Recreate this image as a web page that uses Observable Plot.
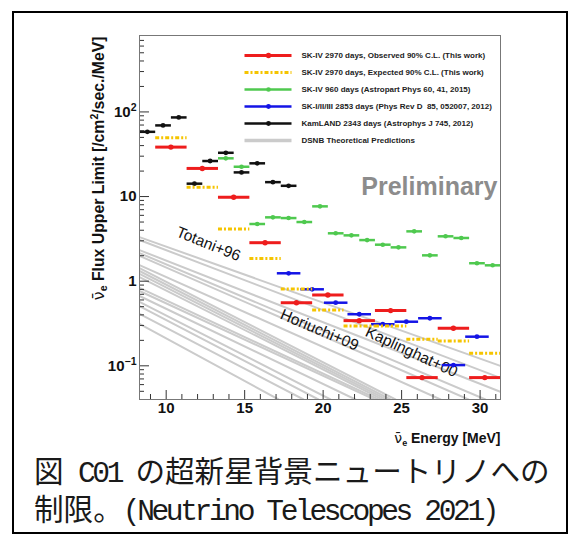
<!DOCTYPE html>
<html><head><meta charset="utf-8">
<script src="https://cdn.jsdelivr.net/npm/d3@7"></script>
<script src="https://cdn.jsdelivr.net/npm/@observablehq/plot@0.6"></script>
<style>
body{margin:0;background:#fff;}
#wrap{position:relative;width:574px;height:540px;overflow:hidden;background:#fff;}
#border{position:absolute;left:12px;top:11px;width:556px;height:523px;border:2px solid #000;box-sizing:border-box;pointer-events:none;}
#chart svg{display:block;}
#caption{position:absolute;left:34px;top:455px;font-family:"Liberation Mono","Noto Sans CJK JP",monospace;font-size:29.6px;line-height:38px;color:#1a1a1a;white-space:nowrap;}
#caption .lat{letter-spacing:-3.4px;}
</style></head>
<body>
<div id="wrap">
  <div id="chart"></div>
  <div id="caption"></div>
  <div id="border"></div>
</div>
<script>
// ---------- data ----------
const xDomain = [8.3, 31.3];
const yDomain = [0.04, 800];
const xTickValues = [10, 15, 20, 25, 30];
const xTickLabels = ["10", "15", "20", "25", "30"];
const xMinorTicks = [9, 11, 12, 13, 14, 16, 17, 18, 19, 21, 22, 23, 24, 26, 27, 28, 29, 31];
const yTickValues = [0.1, 1, 10, 100];
const yTickLabels = ["10\u207B\u00B9", "1", "10", "10\u00B2"];

// SK-IV 2970 days (this work), 2 MeV bins
const skivLo = [9.3, 11.3, 13.3, 15.3, 17.3, 19.3, 21.3, 23.3, 25.3, 27.3, 29.3];
const skivHi = [11.3, 13.3, 15.3, 17.3, 19.3, 21.3, 23.3, 25.3, 27.3, 29.3, 31.3];
const skivObserved = [38.4, 21.5, 9.8, 2.85, 0.557, 0.687, 0.342, 0.449, 0.0726, 0.278, 0.0726];
const skivExpected = [49.4, 12.9, 4.13, 1.86, 0.809, 0.457, 0.296, 0.296, 0.206, 0.197, 0.141];

// SK-IV 960 days, 1 MeV bins
const sk960Lo = [13.3, 14.3, 15.3, 16.3, 17.3, 18.3, 19.3, 20.3, 21.3, 22.3, 23.3, 24.3, 25.3, 26.3, 27.3, 28.3, 29.3, 30.3];
const sk960Hi = [14.3, 15.3, 16.3, 17.3, 18.3, 19.3, 20.3, 21.3, 22.3, 23.3, 24.3, 25.3, 26.3, 27.3, 28.3, 29.3, 30.3, 31.3];
const sk960Limit = [28.3, 22.5, 4.74, 5.68, 5.57, 5.0, 7.66, 3.68, 3.48, 3.06, 2.70, 2.51, 3.88, 2.02, 3.39, 3.24, 1.63, 1.54];

// SK-I/II/III 2853 days
const sk123Lo = [17.05, 18.55, 20.05, 21.55, 23.05, 24.55, 26.05, 27.55, 29.05];
const sk123Hi = [18.55, 20.05, 21.55, 23.05, 24.55, 26.05, 27.55, 29.05, 30.55];
const sk123Limit = [1.24, 0.802, 0.557, 0.407, 0.310, 0.332, 0.365, 0.102, 0.221];

// KamLAND 2343 days
const kamLo = [8.3, 9.3, 10.3, 11.3, 12.3, 13.3, 14.3, 15.3, 16.3, 17.3];
const kamHi = [9.3, 10.3, 11.3, 12.3, 13.3, 14.3, 15.3, 16.3, 17.3, 18.3];
const kamLimit = [58.2, 69.3, 86.1, 14.2, 26.3, 32.9, 19.3, 24.7, 14.8, 13.4];

// DSNB theoretical predictions (start and end points of each curve)
const dsnbE0 = [8.3, 8.3, 8.3, 8.3, 8.3, 8.3, 8.3, 8.3, 8.3, 8.3, 8.3, 8.3, 8.3, 8.3, 8.3, 8.3, 8.3];
const dsnbV0 = [3.32, 3.07, 2.33, 2.15, 1.99, 1.55, 1.43, 1.32, 1.22, 1.12, 0.832, 0.766, 0.668, 0.568, 0.509, 0.410, 0.313];
const dsnbE1 = [31.3, 31.3, 31.3, 30.34, 29.26, 27.48, 24.61, 24.29, 24.03, 23.78, 23.53, 23.27, 22.06, 20.47, 19.70, 18.75, 17.16];
const dsnbV1 = [0.0997, 0.072, 0.0492, 0.04, 0.04, 0.04, 0.04, 0.04, 0.04, 0.04, 0.04, 0.04, 0.04, 0.04, 0.04, 0.04, 0.04];

const modelNames = ["Totani+96", "Horiuchi+09", "Kaplinghat+00"];
const modelE = [12.7, 19.77, 25.63];
const modelV = [2.75, 0.265, 0.146];

const legendLabels = [
  "SK-IV 2970 days, Observed 90% C.L. (This work)",
  "SK-IV 2970 days, Expected 90% C.L. (This work)",
  "SK-IV 960 days (Astropart Phys 60, 41, 2015)",
  "SK-I/II/III 2853 days (Phys Rev D  85, 052007, 2012)",
  "KamLAND 2343 days (Astrophys J 745, 2012)",
  "DSNB Theoretical Predictions"
];
const xTitle = "Energy [MeV]";
const yTitle = "Flux Upper Limit";

// ---------- layout & style ----------
const W = 574, H = 450;
const ML = 139, MR = 74, MT = 35, MB = 51;
const frameW = W - ML - MR, frameH = H - MT - MB;
const X = d3.scaleLinear(xDomain, [ML, W - MR]);
const Y = d3.scaleLog(yDomain, [H - MB, MT]);

const RED = "#ee1d1d", GOLD = "#f5c400", GREEN = "#4fc94f", BLUE = "#1414e6", BLACK = "#111111", GRAY = "#cbcbcb";
const styles = [
  {color: RED, width: 3, dash: null, r: 2.7},
  {color: GOLD, width: 3, dash: "4,2,2,2", r: 0},
  {color: GREEN, width: 2.5, dash: null, r: 2.3},
  {color: BLUE, width: 2.5, dash: null, r: 2.4},
  {color: BLACK, width: 2.5, dash: null, r: 2.4},
  {color: GRAY, width: 3.5, dash: null, r: 0}
];
const modelAngle = [22, 23, 25];

const rows = (lo, hi, v) => lo.map((l, i) => ({lo: l, hi: hi[i], mid: (l + hi[i]) / 2, v: v[i]}));
function series(data, st) {
  const m = [Plot.link(data, {x1: "lo", x2: "hi", y1: "v", y2: "v", stroke: st.color, strokeWidth: st.width,
    strokeDasharray: st.dash || undefined, strokeLinecap: "butt", clip: true})];
  if (st.r > 0) m.push(Plot.dot(data, {x: "mid", y: "v", r: st.r, fill: st.color, stroke: "none"}));
  return m;
}

const dsnbRows = [];
dsnbV0.forEach((v, i) => {
  dsnbRows.push({id: i, E: dsnbE0[i], v: v});
  dsnbRows.push({id: i, E: dsnbE1[i], v: dsnbV1[i]});
});
const modelRows = modelNames.map((n, i) => ({name: n, E: modelE[i], v: modelV[i], a: modelAngle[i]}));

const yMinor = [];
[0.01, 0.1, 1, 10, 100].forEach(d => { for (let k = 2; k <= 9; k++) { const t = d * k; if (t >= yDomain[0] && t <= yDomain[1]) yMinor.push(t); } });

// legend
const legendMarks = [];
legendLabels.forEach((label, i) => {
  const st = styles[i];
  const row = [{label, y: Y.invert(55 + 17 * i)}];
  legendMarks.push(Plot.link(row, {x1: () => X.invert(244), x2: () => X.invert(291), y1: "y", y2: "y",
    stroke: st.color, strokeWidth: st.width, strokeDasharray: st.dash || undefined, strokeLinecap: "butt"}));
  if (st.r > 0) legendMarks.push(Plot.dot(row, {x: () => X.invert(268), y: "y", r: st.r, fill: st.color}));
  legendMarks.push(Plot.text(row, {x: () => X.invert(301), y: "y", text: "label", textAnchor: "start",
    fontSize: 8, fontWeight: "bold", fill: "#222"}));
});

const plot = Plot.plot({
  width: W, height: H,
  marginLeft: ML, marginRight: MR, marginTop: MT, marginBottom: MB,
  x: {domain: xDomain, axis: null},
  y: {type: "log", domain: yDomain, axis: null},
  style: {fontFamily: "'Liberation Sans', Arial, sans-serif", background: "#fff", overflow: "visible", color: "#000"},
  marks: [
    Plot.line(dsnbRows, {x: "E", y: "v", z: "id", stroke: GRAY, strokeWidth: 2, clip: true}),
    Plot.text(modelRows, {x: "E", y: "v", text: "name", rotate: "a", fontSize: 15.5, fill: "#111"}),
    ...series(rows(sk960Lo, sk960Hi, sk960Limit), styles[2]),
    ...series(rows(kamLo, kamHi, kamLimit), styles[4]),
    ...series(rows(sk123Lo, sk123Hi, sk123Limit), styles[3]),
    ...series(rows(skivLo, skivHi, skivExpected), styles[1]),
    ...series(rows(skivLo, skivHi, skivObserved), styles[0]),
    ...legendMarks,
    Plot.text(["Preliminary"], {frameAnchor: "top-right", dx: -3, dy: 142, textAnchor: "end",
      fontSize: 25, fontWeight: "bold", fill: "#8c8c8c"}),
    // ticks (inside, ROOT style)
    Plot.tickX(xMinorTicks, {x: d => d, insetTop: frameH - 5, stroke: "#333"}),
    Plot.tickX(xTickValues, {x: d => d, insetTop: frameH - 9, stroke: "#333"}),
    Plot.tickY(yMinor, {y: d => d, insetRight: frameW - 5, stroke: "#333"}),
    Plot.tickY(yTickValues, {y: d => d, insetRight: frameW - 10, stroke: "#333"}),
    Plot.frame({stroke: "#777", strokeWidth: 1}),
    Plot.text(xTickValues, {x: d => d, frameAnchor: "bottom", dy: 13, text: (d, i) => xTickLabels[i],
      fontSize: 15, fontWeight: "bold", fill: "#111"}),
    Plot.text(yTickValues, {y: d => d, frameAnchor: "left", dx: -3, textAnchor: "end", text: (d, i) => yTickLabels[i],
      fontSize: 15, fontWeight: "bold", fill: "#111"}),
    Plot.text([xTitle], {frameAnchor: "bottom-right", dy: 43, textAnchor: "end", lineAnchor: "bottom",
      fontSize: 14, fontWeight: "bold", fill: "#111"}),
    Plot.text([yTitle], {frameAnchor: "top-left", dx: -47, dy: 1, rotate: -90, textAnchor: "end",
      fontSize: 15.8, fontWeight: "bold", fill: "#111"})
  ]
});
document.getElementById("chart").appendChild(plot);

// ---------- rich text (subscripts / superscripts) ----------
const svg = d3.select(plot);
const byText = t => svg.selectAll("text").filter(function () { return this.textContent === t; });
const NUBAR = "\u03BD\u0304";

byText(xTitle).each(function () {
  const el = d3.select(this); el.text(null);
  el.append("tspan").attr("font-family", "'DejaVu Sans'").attr("font-weight", "normal").text(NUBAR);
  el.append("tspan").attr("font-size", 9).attr("dy", 3).text("e");
  el.append("tspan").attr("dy", -3).text(" " + xTitle);
});
byText(yTitle).each(function () {
  const el = d3.select(this); el.text(null);
  el.append("tspan").attr("font-family", "'DejaVu Sans'").attr("font-weight", "normal").text(NUBAR);
  el.append("tspan").attr("font-size", 10.5).attr("dy", 3).text("e");
  el.append("tspan").attr("dy", -3).text(" " + yTitle + " [/cm");
  el.append("tspan").attr("font-size", 10.5).attr("dy", -6).text("2");
  el.append("tspan").attr("dy", 6).text("/sec./MeV]");
});
const supMap = {"\u207B": "\u2212", "\u00B9": "1", "\u00B2": "2"};
yTickLabels.forEach(lab => {
  const m = lab.match(/^(10)([\u207B\u00B9\u00B2]+)$/);
  if (!m) return;
  byText(lab).each(function () {
    const el = d3.select(this); el.text(null);
    el.append("tspan").text(m[1]);
    el.append("tspan").attr("font-size", 10.5).attr("dy", -6).text([...m[2]].map(c => supMap[c]).join(""));
  });
});

// caption
const cap = document.getElementById("caption");
cap.innerHTML = '図<span class="lat"> C01 </span>の超新星背景ニュートリノへの<br>制限。<span class="lat">(Neutrino Telescopes 2021)</span>';
</script>
</body></html>
